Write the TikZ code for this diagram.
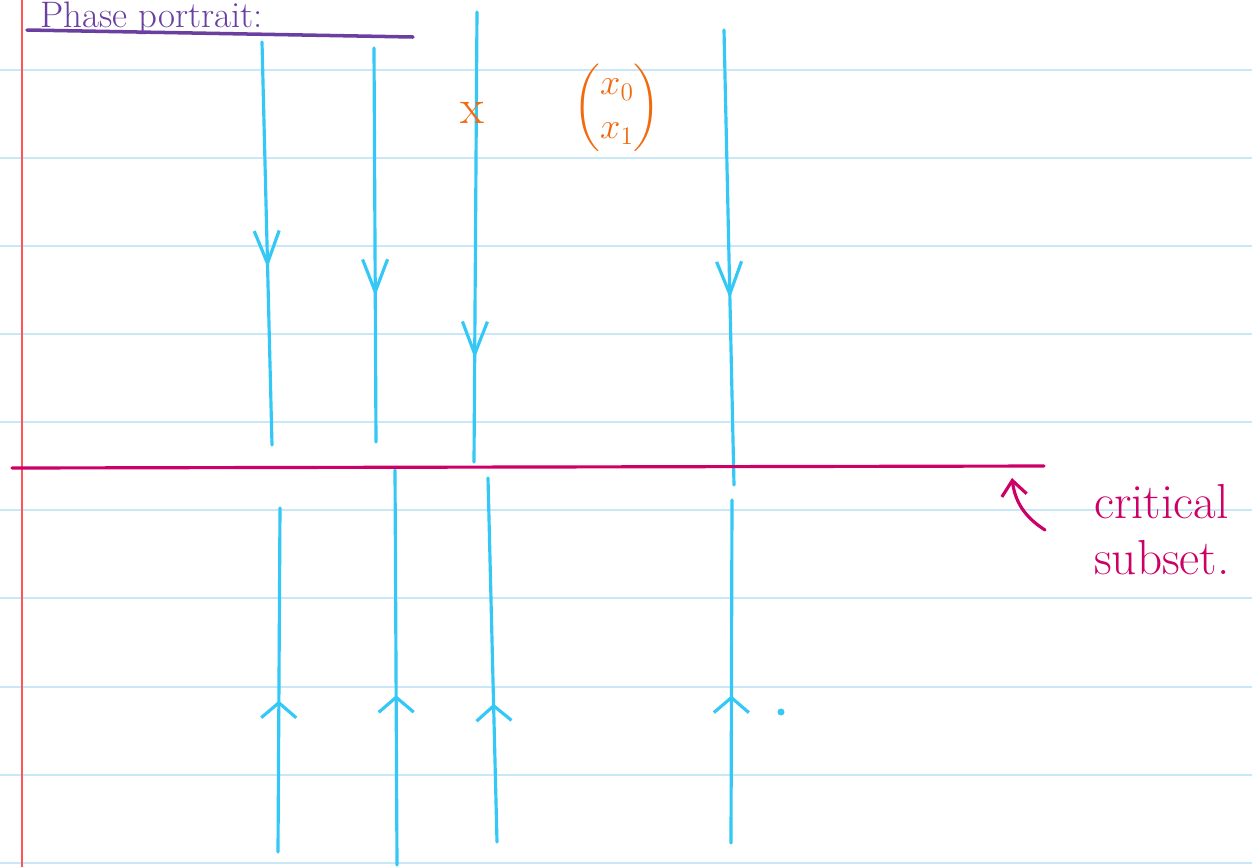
\documentclass[tikz,border=0pt]{standalone}
\usepackage{amsmath}
\usetikzlibrary{arrows.meta,decorations.markings}

\definecolor{flowblue}{RGB}{51,200,245}
\definecolor{critmag}{RGB}{204,0,102}
\definecolor{pointorange}{RGB}{242,106,16}
\definecolor{titlepurple}{RGB}{106,63,160}
\definecolor{paperblue}{RGB}{200,232,248}
\definecolor{marginred}{RGB}{255,85,85}

\begin{document}
\begin{tikzpicture}[x=0.02cm, y=-0.02cm,
    ruled/.style={draw=paperblue, line width=1.1pt},
    traj/.style={draw=flowblue, line width=1.8pt, line cap=round},
    downflow/.style={traj, postaction={decorate, decoration={markings,
        mark=at position #1 with {\arrow{Straight Barb[length=6.5mm,width=5mm]}}}}},
    upflow/.style={traj, postaction={decorate, decoration={markings,
        mark=at position #1 with {\arrow{Straight Barb[length=3mm,width=7mm]}}}}},
    critline/.style={draw=critmag, line width=1.8pt, line cap=round},
    label/.style={text=critmag, align=left, font=\fontsize{28}{32}\selectfont}
  ]
    \useasboundingbox[fill=white] (0,0) rectangle (1252,867);
    \foreach \y in {70,158,246,334,422,510,598,687,775,863}
      \draw[ruled] (0,\y) -- (1252,\y);
    \draw[draw=marginred, line width=1.1pt] (22,0) -- (22,867);

    \node[text=titlepurple, anchor=base west, font=\fontsize{21}{25}\selectfont] (title) at (34,27) {Phase portrait:};
    \draw[draw=titlepurple, line width=2pt, line cap=round] (27,30) -- (413,37);

    \coordinate (u1a) at (262,42);  \coordinate (u1b) at (272,445);
    \coordinate (u2a) at (374,48);  \coordinate (u2b) at (376,442);
    \coordinate (u3a) at (477,12);  \coordinate (u3b) at (474,462);
    \coordinate (u4a) at (724,30);  \coordinate (u4b) at (734,485);
    \coordinate (l1a) at (278,852); \coordinate (l1b) at (280,508);
    \coordinate (l2a) at (397,865); \coordinate (l2b) at (395,470);
    \coordinate (l3a) at (497,842); \coordinate (l3b) at (488,478);
    \coordinate (l4a) at (731,843); \coordinate (l4b) at (732,500);

    \draw[downflow=0.56] (u1a) -- (u1b);
    \draw[downflow=0.63] (u2a) -- (u2b);
    \draw[downflow=0.77] (u3a) -- (u3b);
    \draw[downflow=0.59] (u4a) -- (u4b);
    \draw[upflow=0.44] (l1a) -- (l1b);
    \draw[upflow=0.43] (l2a) -- (l2b);
    \draw[upflow=0.38] (l3a) -- (l3b);
    \draw[upflow=0.43] (l4a) -- (l4b);
    \fill[flowblue] (781,712) circle (3.5);

    \coordinate (critL) at (12,468);
    \coordinate (critR) at (1044,466);
    \draw[critline] (critL) -- (critR);

    \node[text=pointorange, font=\fontsize{28}{30}\selectfont] (pt) at (472,113) {x};
    \node[text=pointorange, font=\fontsize{21}{25}\selectfont] (vec) at (617,108)
      {$\begin{pmatrix} x_0 \\ x_1 \end{pmatrix}$};

    \node[label, anchor=north west] (crit) at (1088,478) {critical\\subset.};
    \coordinate (critFrom) at (1045,530);
    \coordinate (critTo) at (1012,478);
    \draw[critline, -{Straight Barb[length=3mm,width=5mm]}] (critFrom) to[bend left=25] (critTo);
  \end{tikzpicture}
\end{document}
